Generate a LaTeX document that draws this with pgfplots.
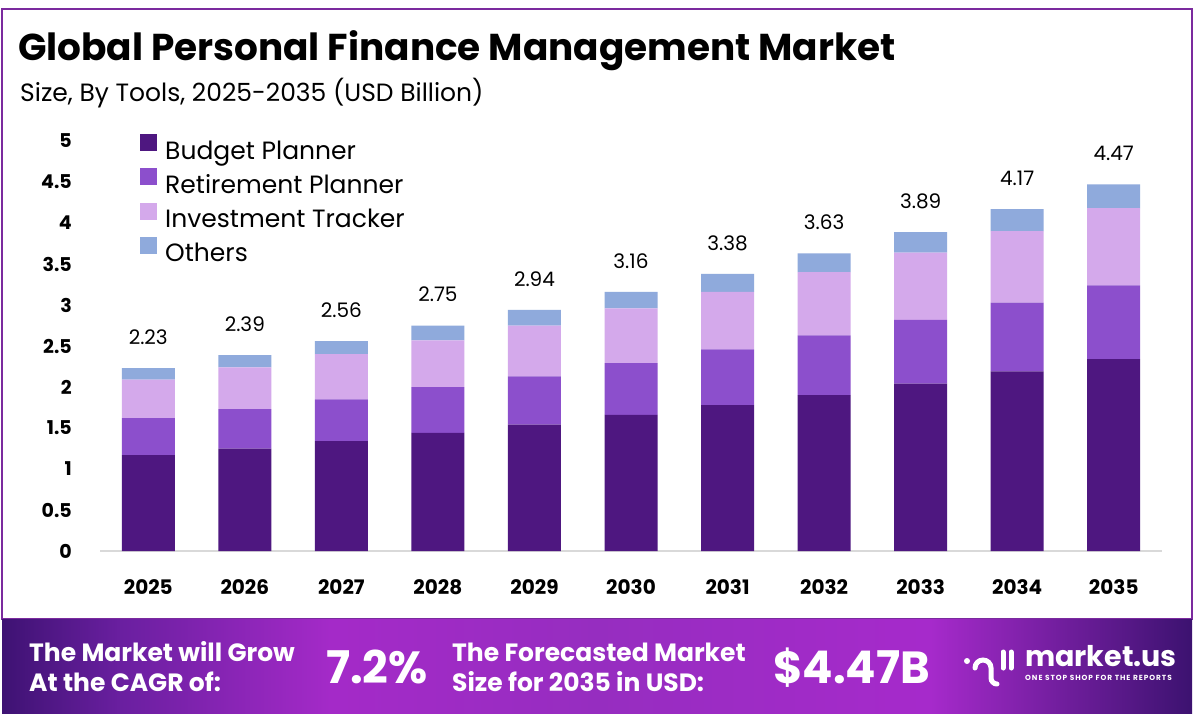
\documentclass[border=0pt]{standalone}
\usepackage{fontspec}
\setmainfont{Poppins}
\usepackage{pgfplots}
\pgfplotsset{compat=1.18}
\definecolor{cBudget}{HTML}{4E1780}
\definecolor{cRetire}{HTML}{8C4FCC}
\definecolor{cInvest}{HTML}{D4A9EB}
\definecolor{cOthers}{HTML}{8FAADC}
\definecolor{frameC}{HTML}{7B2A9E}
\definecolor{axisC}{HTML}{D9D9D9}
\pgfdeclarehorizontalshading{banner}{100bp}{
 color(0bp)=({rgb,255:red,62;green,18;blue,115});
 color(25bp)=({rgb,255:red,62;green,18;blue,115});
 color(30bp)=({rgb,255:red,106;green,31;blue,160});
 color(38.8bp)=({rgb,255:red,164;green,42;blue,200});
 color(50bp)=({rgb,255:red,150;green,45;blue,192});
 color(64bp)=({rgb,255:red,166;green,42;blue,203});
 color(75bp)=({rgb,255:red,60;green,18;blue,112});
 color(100bp)=({rgb,255:red,60;green,18;blue,112})}
\pgfplotstableread{
x budget retire invest others
0 1.17 0.45 0.47 0.14
1 1.25 0.48 0.51 0.15
2 1.34 0.51 0.55 0.16
3 1.44 0.56 0.57 0.18
4 1.54 0.59 0.62 0.19
5 1.66 0.63 0.67 0.20
6 1.78 0.68 0.70 0.22
7 1.90 0.73 0.77 0.23
8 2.04 0.78 0.82 0.25
9 2.19 0.84 0.87 0.27
10 2.34 0.90 0.94 0.29
}\datatable
\begin{document}
\begin{tikzpicture}
% background
\fill[white] (0pt,0pt) rectangle (1194pt,-726pt);
\draw[frameC, line width=2pt] (2pt,-9pt) rectangle (1192pt,-619pt);
% title
\node[anchor=base west, inner sep=0pt] at (18pt,-60pt) {\fontsize{37.4}{42}\selectfont\bfseries Global Personal Finance Management Market};
\node[anchor=base west, inner sep=0pt] at (20pt,-101pt) {\fontsize{25}{30}\selectfont Size, By Tools, 2025-2035 (USD Billion)};
\begin{axis}[
  at={(100pt,-551pt)}, anchor=south west,
  scale only axis, width=1062pt, height=410pt,
  ybar stacked, bar width=53pt,
  xmin=-0.5, xmax=10.5, ymin=0, ymax=5,
  xtick={0,...,10},
  xticklabels={2025,2026,2027,2028,2029,2030,2031,2032,2033,2034,2035},
  ytick={0,0.5,1,1.5,2,2.5,3,3.5,4,4.5,5},
  /pgf/number format/assume math mode=true,
  axis x line*=bottom, axis y line*=left,
  y axis line style={draw=none},
  x axis line style={draw=axisC, line width=2pt},
  major tick length=0pt, tick style={draw=none},
  yticklabel style={font=\fontsize{19}{23}\selectfont\bfseries, anchor=east, inner sep=0pt, xshift=-28pt},
  xticklabel style={font=\fontsize{20}{24}\selectfont\bfseries, anchor=north, inner sep=0pt, yshift=-28pt},
  legend style={at={(axis description cs:0.0377,1.017)}, anchor=north west, draw=none, fill=none,
    font=\fontsize{25}{30}\selectfont, row sep=5.6pt, inner sep=0pt,
    /tikz/every odd column/.append style={column sep=6pt}},
  legend cell align=left,
  legend image code/.code={\fill[#1] (0pt,-0.5pt) rectangle (17pt,16.5pt);},
]
\addplot[fill=cBudget, draw=none] table[x=x, y=budget] {\datatable};
\addplot[fill=cRetire, draw=none] table[x=x, y=retire] {\datatable};
\addplot[fill=cInvest, draw=none] table[x=x, y=invest] {\datatable};
\addplot[fill=cOthers, draw=none] table[x=x, y=others] {\datatable};
\legend{Budget Planner, Retirement Planner, Investment Tracker, Others}
\end{axis}
\begin{axis}[
  at={(100pt,-551pt)}, anchor=south west,
  scale only axis, width=1062pt, height=410pt,
  xmin=-0.5, xmax=10.5, ymin=0, ymax=5, hide axis,
]
\addplot[draw=none, mark=none, nodes near coords, point meta=explicit symbolic,
  nodes near coords style={anchor=center, yshift=31pt, font=\fontsize{20}{24}\selectfont, text=black}]
  coordinates {(0,2.23)[2.23] (1,2.39)[2.39] (2,2.56)[2.56] (3,2.75)[2.75] (4,2.94)[2.94] (5,3.16)[3.16] (6,3.38)[3.38] (7,3.63)[3.63] (8,3.89)[3.89] (9,4.17)[4.17] (10,4.47)[4.47]};
\end{axis}
% banner
\shade[shading=banner] (2pt,-619pt) rectangle (1192pt,-713pt);
\node[anchor=base west, inner sep=0pt, text=white] at (29pt,-661pt) {\fontsize{25}{28}\selectfont\bfseries The Market will Grow};
\node[anchor=base west, inner sep=0pt, text=white] at (29pt,-691pt) {\fontsize{25}{28}\selectfont\bfseries At the CAGR of:};
\node[anchor=base west, inner sep=0pt, text=white] at (326pt,-683pt) {\fontsize{45}{48}\selectfont\bfseries 7.2\%};
\node[anchor=base west, inner sep=0pt, text=white] at (452pt,-661pt) {\fontsize{25}{28}\selectfont\bfseries The Forecasted Market};
\node[anchor=base west, inner sep=0pt, text=white] at (452pt,-691pt) {\fontsize{25}{28}\selectfont\bfseries Size for 2035 in USD:};
\node[anchor=base west, inner sep=0pt, text=white] at (773pt,-683pt) {\fontsize{45}{48}\selectfont\bfseries \$4.47B};
% logo
\fill[white] (967pt,-661pt) circle (3pt);
\draw[white, line width=5pt, line cap=round] (975pt,-668pt) arc[start angle=180, end angle=0, radius=8pt] -- (991pt,-678pt) arc[start angle=180, end angle=270, radius=6pt];
\draw[white, line width=5pt, line cap=round] (1003pt,-652pt) -- (1003pt,-668pt);
\draw[white, line width=5pt, line cap=round] (1011pt,-652pt) -- (1011pt,-668pt);
\node[anchor=base west, inner sep=0pt, text=white] at (1025pt,-666pt) {\fontsize{28.5}{30}\selectfont\bfseries market.us};
\node[anchor=base west, inner sep=0pt, text=white] at (1025pt,-680pt) {\fontsize{7.4}{8}\selectfont\bfseries\addfontfeatures{LetterSpace=13}ONE STOP SHOP FOR THE REPORTS};
\end{tikzpicture}
\end{document}
